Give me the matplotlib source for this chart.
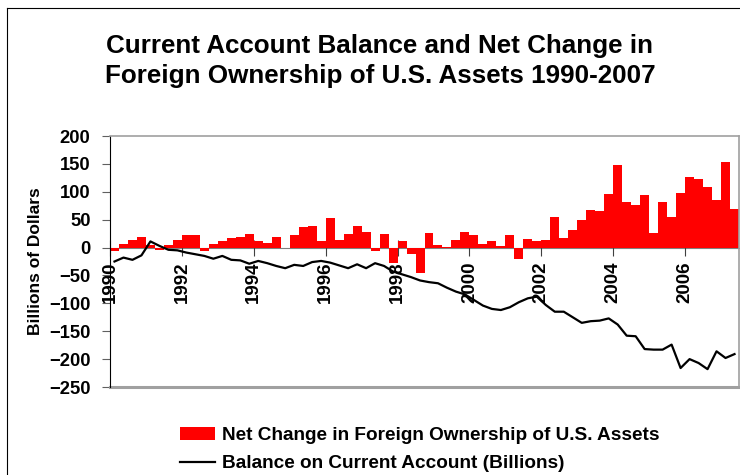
import numpy as np
import matplotlib.pyplot as plt
from matplotlib.patches import Patch
from matplotlib.lines import Line2D
from matplotlib.transforms import ScaledTranslation

# quarterly data, 1990 Q1 .. 2007 Q2
tick_years = [1990, 1992, 1994, 1996, 1998, 2000, 2002, 2004, 2006]

net_foreign = [
    -7, 7, 14, 19, 5, -5, 5, 14,            # 1990-1991
    23, 23, -7, 7, 12, 17, 19, 24,          # 1992-1993
    12, 8, 19, 0, 23, 37, 39, 12,           # 1994-1995
    53, 14, 24, 39, 28, -7, 24, -27,        # 1996-1997
    12, -12, -46, 26, 5, 1, 14, 28,         # 1998-1999
    23, 7, 12, 3, 23, -20, 15, 12,          # 2000-2001
    14, 55, 17, 32, 49, 67, 66, 96,         # 2002-2003
    148, 82, 76, 94, 26, 82, 55, 98,        # 2004-2005
    126, 123, 109, 85, 153, 69,             # 2006-2007 Q2
]

current_account = [
    -25, -18, -22, -14, 11, 3, -4, -5,
    -9, -12, -15, -20, -15, -22, -23, -29,
    -24, -28, -33, -37, -31, -33, -26, -24,
    -27, -32, -37, -30, -37, -28, -33, -43,
    -48, -53, -59, -62, -64, -72, -79, -84,
    -94, -104, -110, -112, -107, -98, -91, -88,
    -103, -115, -115, -125, -135, -132, -131, -127,
    -138, -158, -159, -182, -183, -183, -174, -216,
    -200, -207, -218, -186, -198, -191,
]

x = np.arange(len(net_foreign))

plt.rcParams['font.family'] = ['Liberation Sans', 'DejaVu Sans']
plt.rcParams['font.weight'] = 'bold'

fig = plt.figure(figsize=(7.4, 4.75), dpi=100)
ax = fig.add_axes([110 / 740, 1 - 387 / 475, 629 / 740, 251 / 475])

ax.bar(x + 0.5, net_foreign, width=1.0, color='#ff0000', edgecolor='none', zorder=2)
ax.plot(x + 0.5, current_account, color='black', linewidth=1.6, zorder=3)

ax.set_xlim(0, len(net_foreign))
ax.set_ylim(-250, 200)
ax.set_yticks(np.arange(-250, 201, 50))

# category axis sits at zero
ax.spines['bottom'].set_position(('data', 0))
ax.spines['bottom'].set_color('#808080')
ax.spines['bottom'].set_zorder(1)
for s in ['top', 'right']:
    ax.spines[s].set_color('#a0a0a0')
    ax.spines[s].set_linewidth(1.2)
ax.axhline(-250, color='#a0a0a0', linewidth=2.2, clip_on=False)
ax.spines['left'].set_color('black')

xt = [(y - 1990) * 4 for y in tick_years]
ax.set_xticks(xt)
ax.set_xticklabels([str(y) for y in tick_years], rotation=90, fontsize=13.5,
                   fontweight='bold', va='top', ha='center')
shift = ScaledTranslation(3.5 / 100, 0, fig.dpi_scale_trans)
for lab in ax.get_xticklabels():
    lab.set_transform(lab.get_transform() + shift)
ax.tick_params(axis='x', direction='inout', length=12, color='#404040', pad=4)
ax.tick_params(axis='y', direction='out', length=6, color='#606060', pad=8,
               labelsize=13.2)
for lab in ax.get_yticklabels():
    lab.set_fontweight('bold')

ax.set_ylabel('Billions of Dollars', fontsize=12.5, fontweight='bold')
ax.yaxis.set_label_coords((43 - 110) / 629, 0.5)

fig.text(0.5135, 1 - 61 / 475, 'Current Account Balance and Net Change in\nForeign Ownership of U.S. Assets 1990-2007',
         ha='center', va='center', fontsize=18.7, fontweight='bold', linespacing=1.3)

handles = [Patch(facecolor='#ff0000', edgecolor='none'),
           Line2D([0], [0], color='black', linewidth=1.6)]
fig.legend(handles, ['Net Change in Foreign Ownership of U.S. Assets',
                     'Balance on Current Account (Billions)'],
           loc='upper left', bbox_to_anchor=(163 / 740, 1 - 410 / 475),
           frameon=False, prop={'weight': 'bold', 'size': 13.7},
           handlelength=1.84, handleheight=0.7, handletextpad=0.37, labelspacing=0.55)

# outer frame of the chart
fig.add_artist(Line2D([7 / 740, 7 / 740], [0, 1 - 8 / 475], color='black', linewidth=0.8))
fig.add_artist(Line2D([7 / 740, 1], [1 - 8 / 475, 1 - 8 / 475], color='black', linewidth=0.8))

fig.savefig('out.png', dpi=100)
